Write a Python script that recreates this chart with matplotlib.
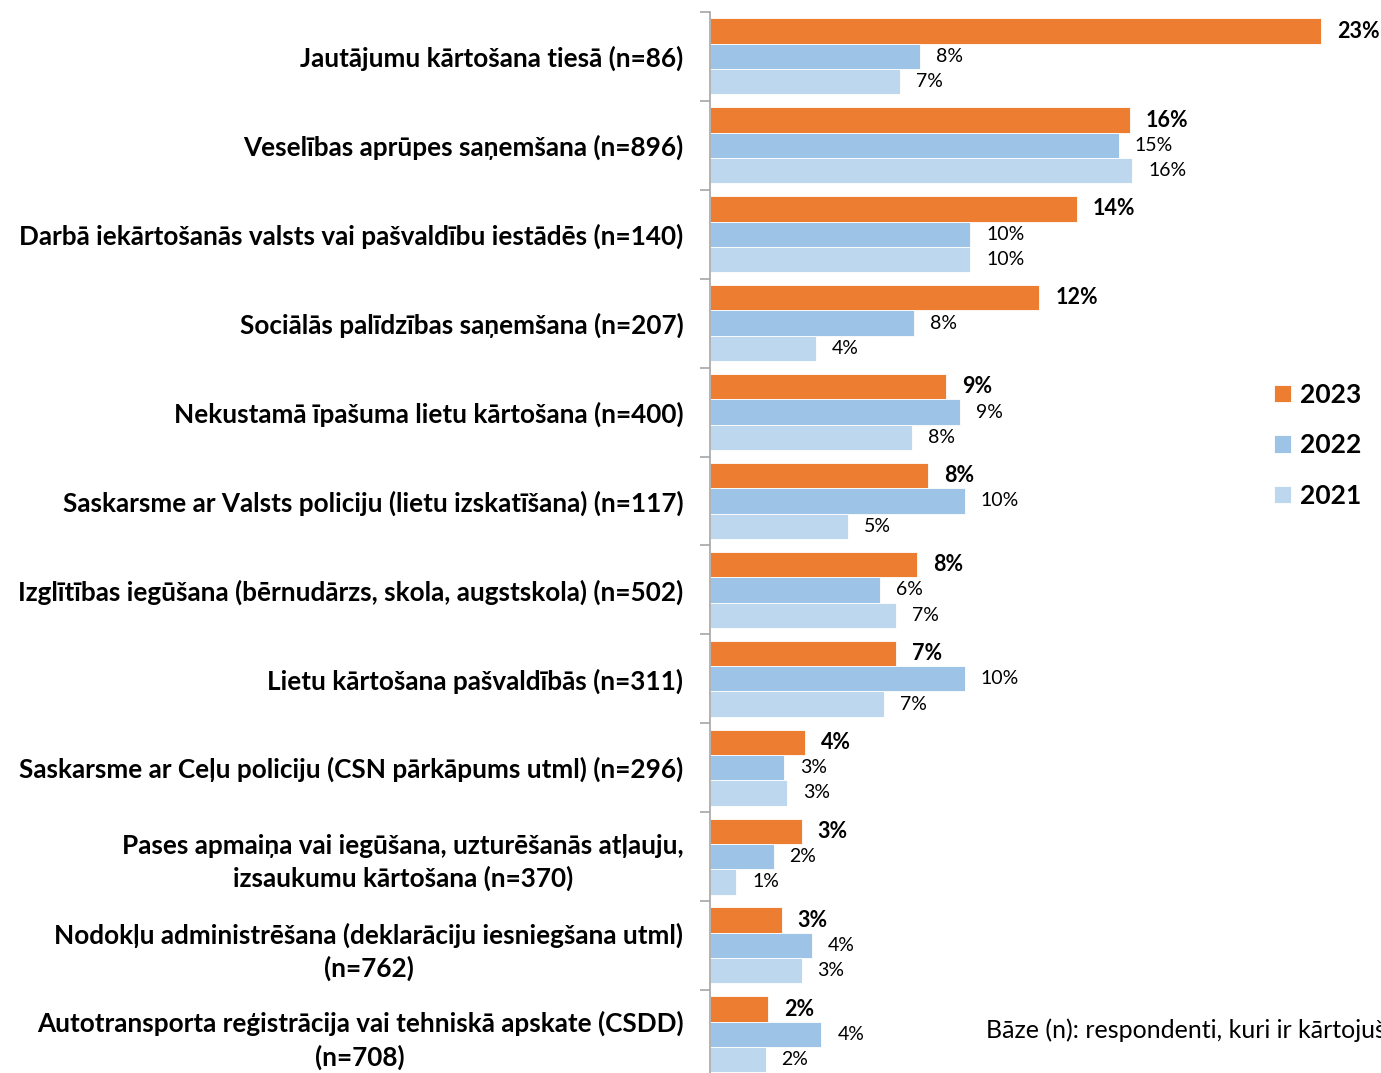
import matplotlib
matplotlib.use('Agg')
import matplotlib.pyplot as plt
import numpy as np

plt.rcParams['font.family'] = ['Lato', 'DejaVu Sans']

# ---------------- DATA ----------------
categories = [
    "Jautājumu kārtošana tiesā (n=86)",
    "Veselības aprūpes saņemšana (n=896)",
    "Darbā iekārtošanās valsts vai pašvaldību iestādēs (n=140)",
    "Sociālās palīdzības saņemšana (n=207)",
    "Nekustamā īpašuma lietu kārtošana (n=400)",
    "Saskarsme ar Valsts policiju (lietu izskatīšana) (n=117)",
    "Izglītības iegūšana (bērnudārzs, skola, augstskola) (n=502)",
    "Lietu kārtošana pašvaldībās (n=311)",
    "Saskarsme ar Ceļu policiju (CSN pārkāpums utml) (n=296)",
    "Pases apmaiņa vai iegūšana, uzturēšanās atļauju,\nizsaukumu kārtošana (n=370)",
    "Nodokļu administrēšana (deklarāciju iesniegšana utml)\n(n=762)",
    "Autotransporta reģistrācija vai tehniskā apskate (CSDD)\n(n=708)",
]
series_names = ["2023", "2022", "2021"]
v2023 = [23.0, 15.8, 13.8, 12.4, 8.9, 8.2, 7.8, 7.0, 3.6, 3.45, 2.7, 2.2]
v2022 = [7.9, 15.4, 9.8, 7.7, 9.4, 9.6, 6.4, 9.6, 2.8, 2.4, 3.85, 4.2]
v2021 = [7.15, 15.9, 9.8, 4.0, 7.6, 5.2, 7.0, 6.55, 2.9, 1.0, 3.45, 2.1]
footnote = "Bāze (n): respondenti, kuri ir kārtojuši attiecīgās lietas"

colors = ["#ED7D31", "#9DC3E6", "#BDD7EE"]

# ---------------- PLOT ----------------
fig = plt.figure(figsize=(13.81, 10.73), dpi=100)
ax = fig.add_axes([0.514, -0.0054, 0.481, 0.9942])

y = np.arange(len(categories))
h = 0.285
for i, (vals, col, name) in enumerate(zip([v2023, v2022, v2021], colors, series_names)):
    pos = y + (i - 1) * h
    ax.barh(pos, vals, height=h, color=col, edgecolor='white', linewidth=0.6, label=name)
    for p, v in zip(pos, vals):
        ax.text(v + 0.6, p, f"{v:.0f}%", va='center', ha='left',
                fontsize=15.5 if i == 0 else 14,
                fontweight='bold' if i == 0 else 'normal', color='black')

ax.set_xlim(0, 25)
ax.set_ylim(len(categories) - 0.5, -0.5)
ax.set_yticks(y)
ax.set_yticklabels(categories, fontsize=18.8, fontweight='bold', multialignment='center',
                   linespacing=1.38)
ax.tick_params(axis='y', which='major', length=0, pad=19)
ax.set_yticks(np.arange(-0.5, len(categories)), minor=True)
ax.tick_params(axis='y', which='minor', length=7, width=1.2, color='#A6A6A6')
ax.set_xticks([])
for s in ['top', 'right', 'bottom']:
    ax.spines[s].set_visible(False)
ax.spines['left'].set_color('#A6A6A6')
ax.spines['left'].set_linewidth(1.2)

fig.legend(loc='center left', bbox_to_anchor=(0.905, 0.585), frameon=False,
           prop={'size': 19, 'weight': 'bold'}, handlelength=0.65, handleheight=0.65,
           handletextpad=0.35, labelspacing=1.0)

fig.text(986 / 1381, 1 - 1030 / 1073, footnote, fontsize=18, va='center', ha='left')

fig.savefig("out.png", dpi=100)
